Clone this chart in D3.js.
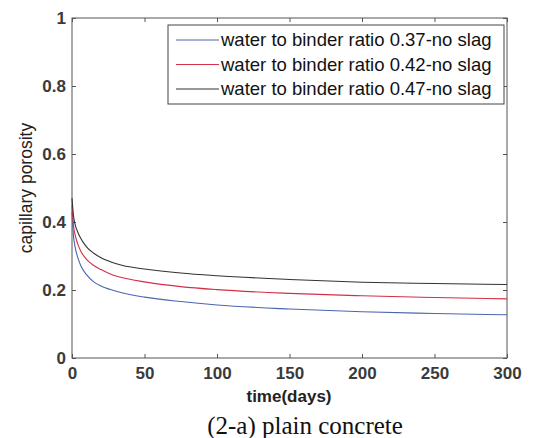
<!DOCTYPE html>
<html>
<head>
<meta charset="utf-8">
<script src="https://cdn.jsdelivr.net/npm/d3@7"></script>
<style>
  body { margin: 0; background: #fff; }
  svg { display: block; }
</style>
</head>
<body>
<div class="chart"></div>
<script>
// data
const days = [0, 1, 2, 4, 6, 10, 15, 20, 26, 35, 50, 75, 100, 150, 200, 250, 300];
const wb037 = [0.43, 0.36, 0.33, 0.295, 0.272, 0.245, 0.224, 0.212, 0.202, 0.191, 0.179, 0.166, 0.156, 0.144, 0.136, 0.131, 0.127];
const wb042 = [0.45, 0.39, 0.365, 0.335, 0.315, 0.29, 0.272, 0.26, 0.248, 0.236, 0.224, 0.21, 0.201, 0.19, 0.183, 0.178, 0.174];
const wb047 = [0.47, 0.42, 0.395, 0.37, 0.352, 0.327, 0.308, 0.295, 0.284, 0.272, 0.262, 0.25, 0.242, 0.231, 0.223, 0.219, 0.216];
const seriesNames = ["water to binder ratio 0.37-no slag", "water to binder ratio 0.42-no slag", "water to binder ratio 0.47-no slag"];
const xTicks = [0, 50, 100, 150, 200, 250, 300];
const yTicks = [0, 0.2, 0.4, 0.6, 0.8, 1];

const colors = ["#4a66b0", "#d42f48", "#333333"];
const series = [wb037, wb042, wb047].map((vals, i) => ({
    name: seriesNames[i],
    color: colors[i],
    values: days.map((d, j) => ({ t: d, v: vals[j] }))
}));

const W = 537, H = 438;
const margin = ({ top: 18, right: 30, bottom: 80, left: 72 });
const width = W - margin.left - margin.right,
    height = H - margin.top - margin.bottom;

let svg = d3.select(".chart").append("svg")
    .attr("width", W)
    .attr("height", H)
    .append("g")
    .attr("transform", "translate(" + margin.left + "," + margin.top + ")");

let xScale = d3.scaleLinear().domain([0, 300]).range([0, width]);
let yScale = d3.scaleLinear().domain([0, 1]).range([height, 0]);

const tickFont = "bold 17px 'Liberation Sans', Arial, sans-serif";

// box
svg.append("rect")
    .attr("width", width).attr("height", height)
    .attr("fill", "none").attr("stroke", "#555").attr("stroke-width", 1);

let xAxis = d3.axisBottom(xScale).tickValues(xTicks).tickSizeInner(-4).tickSizeOuter(0).tickPadding(9);
let yAxis = d3.axisLeft(yScale).tickValues(yTicks).tickFormat(d3.format("~g")).tickSizeInner(-4).tickSizeOuter(0).tickPadding(6);

let gx = svg.append("g").attr("transform", `translate(0, ${height})`).call(xAxis);
let gy = svg.append("g").call(yAxis);
[gx, gy].forEach(g => {
    g.select(".domain").remove();
    g.selectAll("line").attr("stroke", "#555");
    g.selectAll("text").style("font", tickFont).attr("fill", "#3a3a3a");
});

// top and right ticks
svg.append("g").call(d3.axisTop(xScale).tickValues(xTicks).tickSizeInner(-4).tickSizeOuter(0).tickFormat(""))
    .call(g => g.select(".domain").remove())
    .selectAll("line").attr("stroke", "#555");
svg.append("g").attr("transform", `translate(${width},0)`)
    .call(d3.axisRight(yScale).tickValues(yTicks).tickSizeInner(-4).tickSizeOuter(0).tickFormat(""))
    .call(g => g.select(".domain").remove())
    .selectAll("line").attr("stroke", "#555");

// lines
let line = d3.line()
    .x(d => xScale(d.t))
    .y(d => yScale(d.v))
    .curve(d3.curveMonotoneX);

svg.selectAll(".series").data(series).join("path")
    .attr("class", "series")
    .attr("fill", "none")
    .attr("stroke", d => d.color)
    .attr("stroke-width", 1.1)
    .attr("d", d => line(d.values));

// legend
let legend = svg.append("g").attr("transform", "translate(96, 7)");
legend.append("rect")
    .attr("width", 336).attr("height", 79)
    .attr("fill", "#fff").attr("stroke", "#444").attr("stroke-width", 1);
let items = legend.selectAll(".item").data(series).join("g")
    .attr("class", "item")
    .attr("transform", (d, i) => `translate(0, ${15 + i * 24.5})`);
items.append("line")
    .attr("x1", 8).attr("x2", 51)
    .attr("stroke", d => d.color).attr("stroke-width", 1);
items.append("text")
    .attr("x", 53).attr("dy", "0.35em")
    .style("font", "18.5px 'Liberation Sans', Arial, sans-serif")
    .attr("fill", "#111")
    .text(d => d.name);

// axis titles
svg.append("text")
    .attr("x", 217).attr("y", height + 38)
    .attr("dy", "0.35em")
    .attr("text-anchor", "middle")
    .style("font", "bold 17px 'Liberation Sans', Arial, sans-serif")
    .attr("fill", "#222")
    .text("time(days)");

svg.append("text")
    .attr("transform", `translate(-46, ${yScale(0.5)}) rotate(-90)`)
    .attr("text-anchor", "middle")
    .attr("dy", "0.35em")
    .style("font", "17.5px 'Liberation Sans', Arial, sans-serif")
    .attr("fill", "#222")
    .text("capillary porosity");

svg.append("text")
    .attr("x", 233).attr("y", height + 67)
    .attr("dy", "0.35em")
    .attr("text-anchor", "middle")
    .style("font", "25px 'Liberation Serif', 'Times New Roman', serif")
    .attr("fill", "#111")
    .text("(2-a) plain concrete");
</script>
</body>
</html>
